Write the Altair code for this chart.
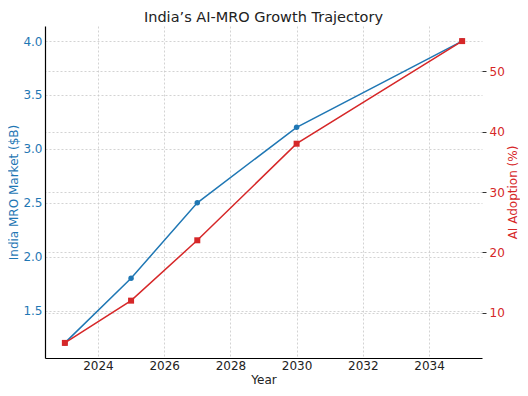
import altair as alt
import pandas as pd

years = [2023, 2025, 2027, 2030, 2035]
market = [1.2, 1.8, 2.5, 3.2, 4.0]
adoption = [5, 12, 22, 38, 55]
x_ticks = [2024, 2026, 2028, 2030, 2032, 2034]
left_ticks = [1.5, 2.0, 2.5, 3.0, 3.5, 4.0]
right_ticks = [10, 20, 30, 40, 50]

df = pd.DataFrame({"Year": years, "Market": market, "Adoption": adoption})

BLUE = "#1f77b4"
RED = "#d62728"
FONT = "DejaVu Sans"

x_enc = alt.X(
    "Year:Q",
    scale=alt.Scale(domain=[2022.4, 2035.6], nice=False, zero=False),
    axis=alt.Axis(
        title="Year", values=x_ticks, format="d", labelFontSize=12, titleFontSize=12,
        labelColor="#222", titleColor="#222", titleFontWeight="normal",
        domainColor="#000", domainWidth=1.2, ticks=False, tickSize=0,
        labelPadding=2, titlePadding=3,
        grid=True, gridDash=[2, 2], gridColor="#c8c8c8", gridWidth=0.8,
    ),
)

base = alt.Chart(df)

left = base.mark_line(
    color=BLUE, strokeWidth=1.5,
    point=alt.OverlayMarkDef(filled=True, size=30, color=BLUE, shape="circle", opacity=1),
).encode(
    x=x_enc,
    y=alt.Y(
        "Market:Q",
        scale=alt.Scale(domain=[1.06, 4.14], nice=False, zero=False),
        axis=alt.Axis(
            orient="left", title="India MRO Market ($B)", values=left_ticks, format=".1f",
            labelFontSize=12, titleFontSize=12, labelColor=BLUE, titleColor=BLUE,
            titleFontWeight="normal", domainColor="#000", domainWidth=1.2,
            ticks=False, tickSize=0, labelPadding=3, titlePadding=2,
            grid=True, gridDash=[2, 2], gridColor="#c8c8c8", gridWidth=0.8,
        ),
    ),
)

right = base.mark_line(
    color=RED, strokeWidth=1.5,
    point=alt.OverlayMarkDef(filled=True, size=36, color=RED, shape="square", opacity=1),
).encode(
    x=x_enc,
    y=alt.Y(
        "Adoption:Q",
        scale=alt.Scale(domain=[2.5, 57.5], nice=False, zero=False),
        axis=alt.Axis(
            orient="right", title="AI Adoption (%)", values=right_ticks, format="d",
            labelFontSize=12, titleFontSize=12, labelColor=RED, titleColor=RED,
            titleFontWeight="normal", domain=False, titleAngle=270, titleBaseline="top",
            tickColor="#333", tickSize=4, labelPadding=3, titlePadding=3,
            grid=True, gridDash=[2, 2], gridColor="#c8c8c8", gridWidth=0.8,
        ),
    ),
)

chart = (
    alt.layer(left, right)
    .resolve_scale(y="independent")
    .properties(
        width=437,
        height=332,
        title=alt.TitleParams(
            "India’s AI-MRO Growth Trajectory", fontSize=14.5, font=FONT,
            fontWeight="normal", color="#222", offset=1, anchor="middle",
        ),
        autosize=alt.AutoSizeParams(type="none"),
        padding={"left": 37, "top": 18, "right": 38, "bottom": 30},
    )
    .configure(font=FONT)
    .configure_view(stroke=None)
    .configure_axis(labelFont=FONT, titleFont=FONT)
)

chart.save("out.html", embed_options={"renderer": "svg", "actions": False})
